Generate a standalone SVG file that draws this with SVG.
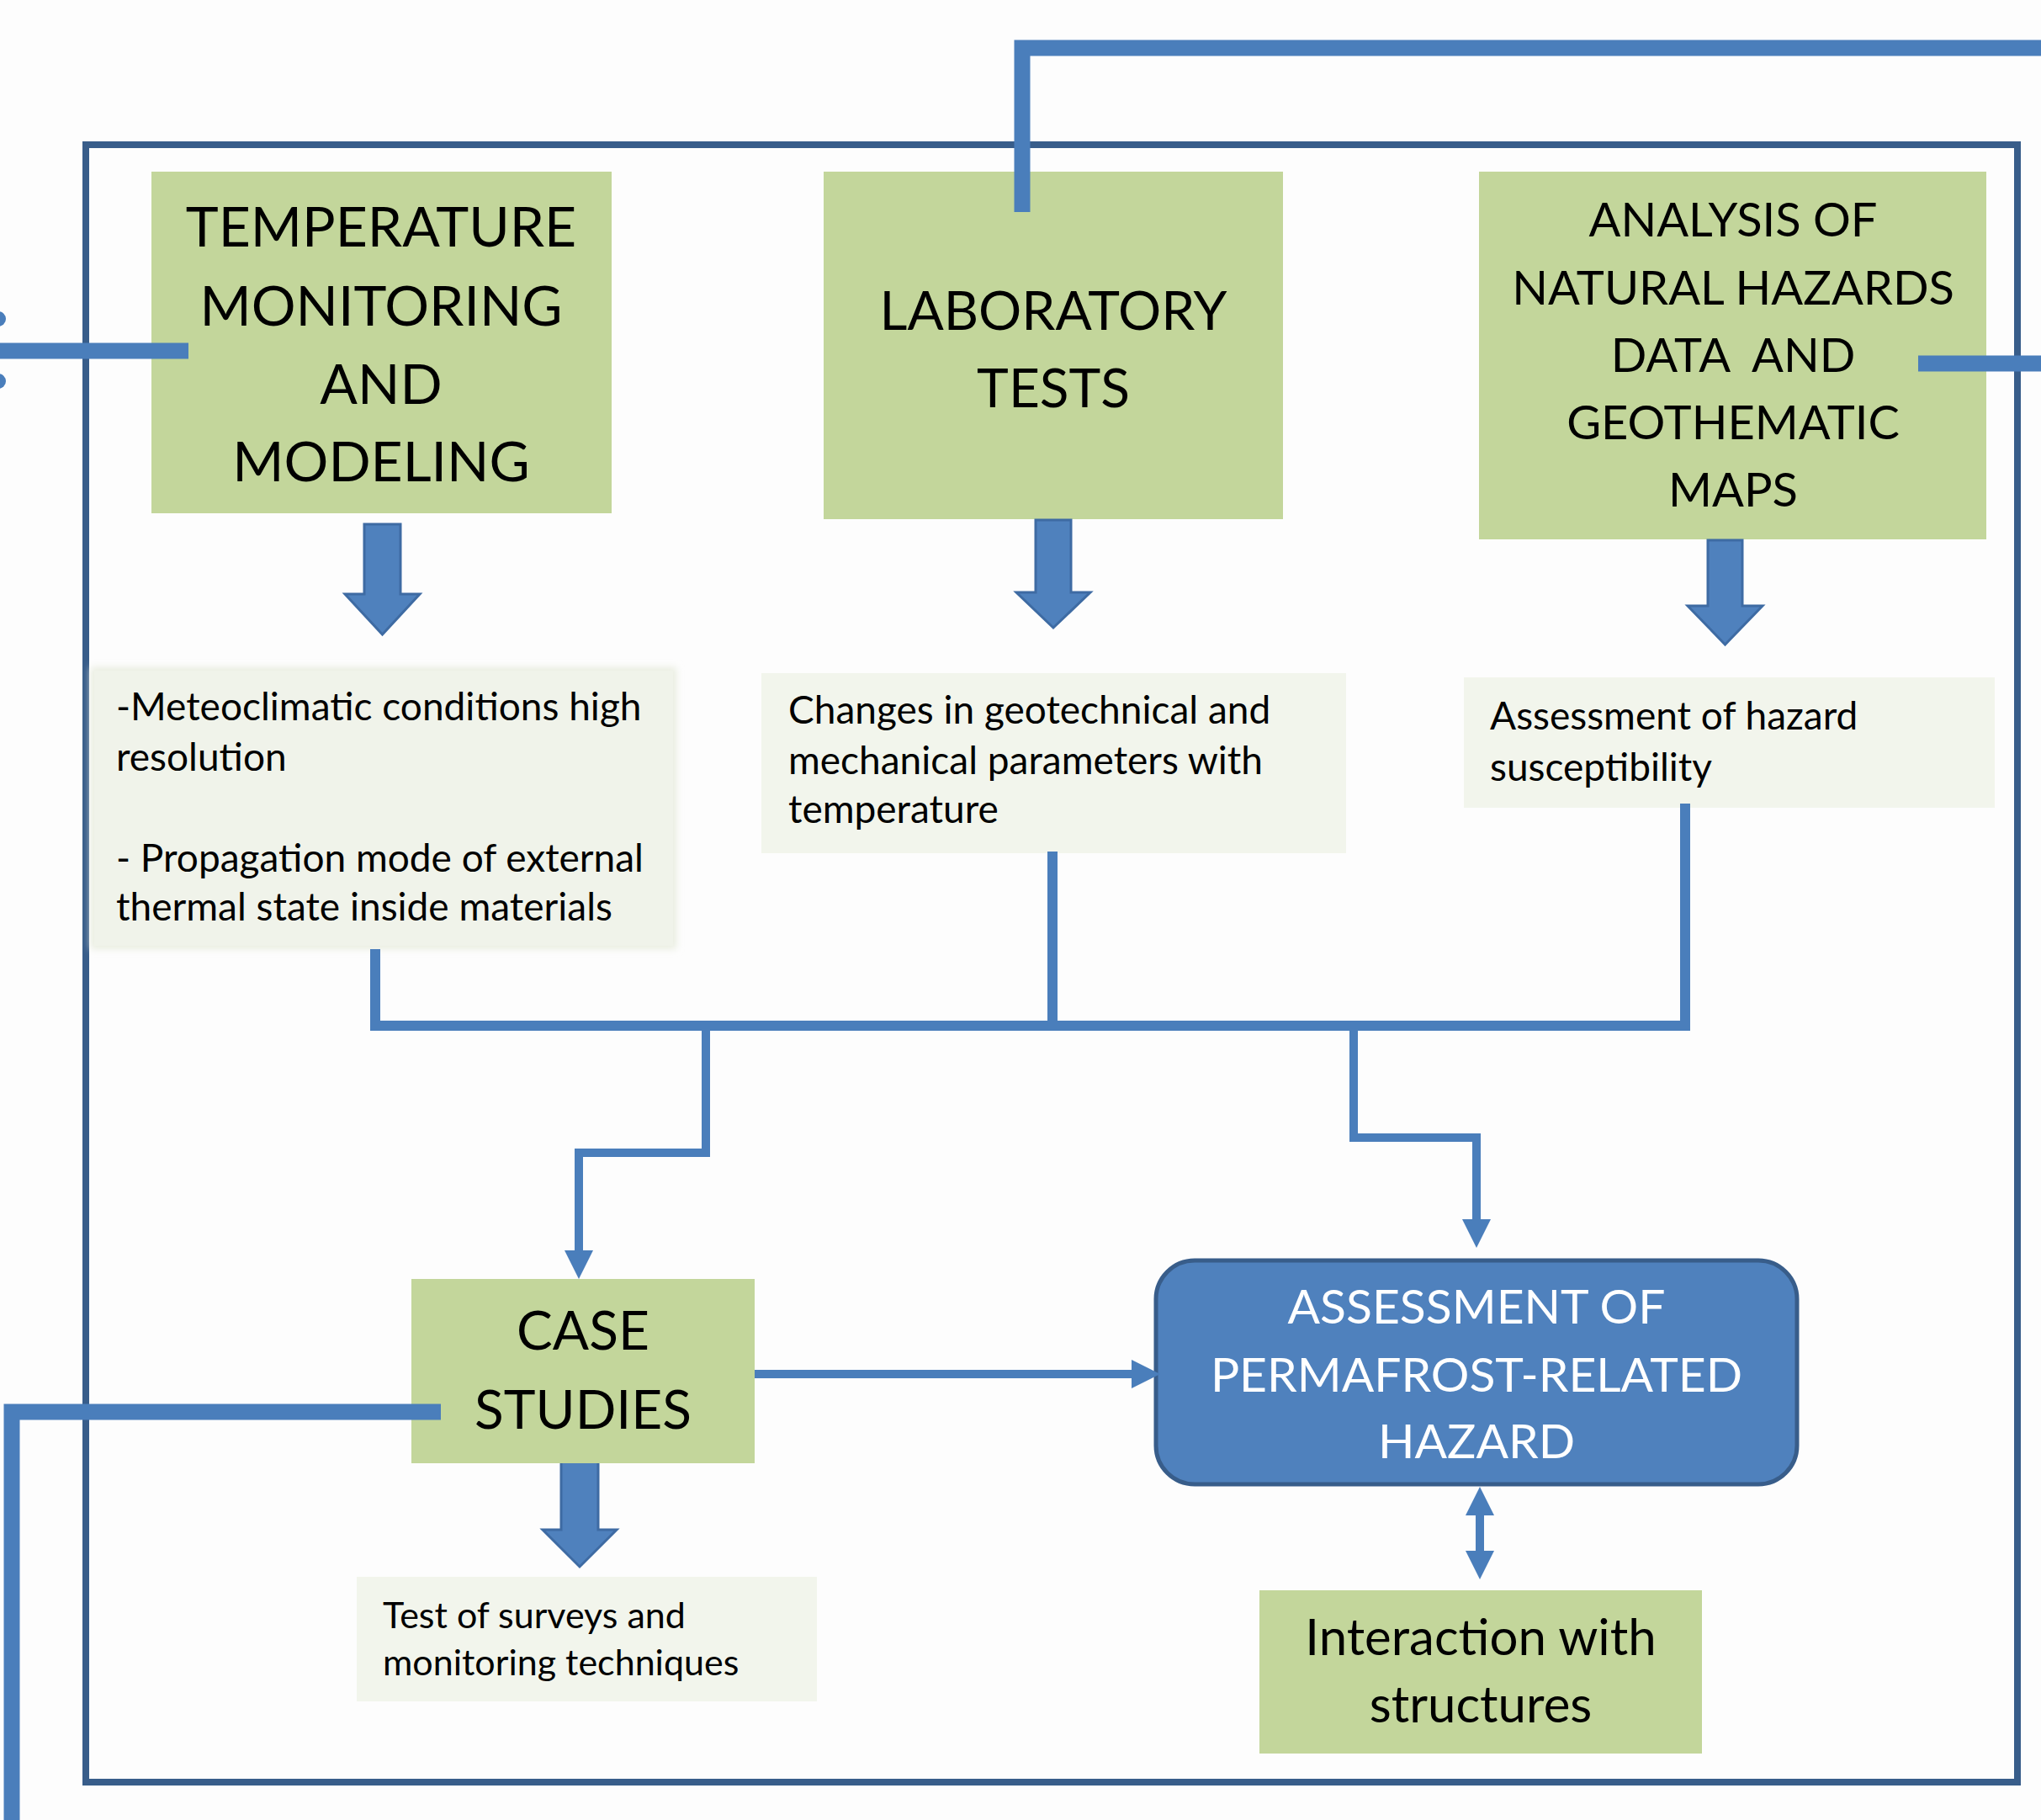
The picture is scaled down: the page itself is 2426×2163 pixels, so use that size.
<svg xmlns="http://www.w3.org/2000/svg" width="2426" height="2163" viewBox="0 0 2426 2163">
<defs>
<style>
.green{fill:#C3D69B}
.light{fill:#F2F5EC}
.t{font-family:Lato,"Open Sans","Liberation Sans",sans-serif;fill:#000}
.c{text-anchor:middle}
.big{font-size:66px}
.med{font-size:56px}
.small{font-size:46px}
.w{fill:#fff}
.conn{fill:none;stroke:#4A7EBB;stroke-width:10}
.bus{fill:none;stroke:#4A7EBB;stroke-width:12}
.ext{fill:none;stroke:#4A7EBB;stroke-width:19}
.blk{fill:#4F81BD;stroke:#3E6BA3;stroke-width:3}
</style>
<marker id="ah" viewBox="0 0 34 34" markerWidth="34" markerHeight="34" refX="1" refY="17" markerUnits="userSpaceOnUse" orient="auto-start-reverse">
<path d="M0,0 L34,17 L0,34 z" fill="#4A7EBB"/>
</marker>
<filter id="soft" x="-5%" y="-5%" width="110%" height="110%">
<feGaussianBlur stdDeviation="4"/>
</filter>
</defs>
<rect width="2426" height="2163" fill="#FDFDFD"/>
<rect id="frame" x="102" y="172" width="2296" height="1946" fill="none" stroke="#385D8A" stroke-width="8"/>

<g id="temperature">
<rect class="green" x="180" y="204" width="547" height="406"/>
<text class="t c big"><tspan x="453" y="293">TEMPERATURE</tspan><tspan x="453" y="387">MONITORING</tspan><tspan x="453" y="480">AND</tspan><tspan x="453" y="572">MODELING</tspan></text>
</g>
<g id="laboratory">
<rect class="green" x="979" y="204" width="546" height="413"/>
<text class="t c" font-size="64"><tspan x="1252" y="392">LABORATORY</tspan><tspan x="1252" y="484">TESTS</tspan></text>
</g>
<g id="analysis">
<rect class="green" x="1758" y="204" width="603" height="437"/>
<text class="t c med" xml:space="preserve"><tspan x="2060" y="281">ANALYSIS OF</tspan><tspan x="2060" y="362">NATURAL HAZARDS</tspan><tspan x="2060" y="442">DATA  AND</tspan><tspan x="2060" y="522">GEOTHEMATIC</tspan><tspan x="2060" y="602">MAPS</tspan></text>
</g>

<g id="arrows-block">
<polygon class="blk" points="433,623 476,623 476,706 499,706 454.5,754 410,706 433,706"/>
<polygon class="blk" points="1231,618 1273,618 1273,704 1296,704 1252,746 1208,704 1231,704"/>
<polygon class="blk" points="2030,642 2071,642 2071,720 2095,720 2050.5,766 2006,720 2030,720"/>
<polygon class="blk" points="667,1732 711,1732 711,1818 733,1818 689,1862 645,1818 667,1818"/>
</g>

<g id="meteo">
<rect x="108" y="793" width="696" height="335" fill="#E9EDE0" filter="url(#soft)"/>
<rect x="112" y="797" width="688" height="327" fill="#F0F3EA"/>
<text class="t small"><tspan x="138" y="856">-Meteoclimatic conditions high</tspan><tspan x="138" y="916">resolution</tspan><tspan x="138" y="1036">- Propagation mode of external</tspan><tspan x="138" y="1094">thermal state inside materials</tspan></text>
</g>
<g id="changes">
<rect class="light" x="905" y="800" width="695" height="214"/>
<text class="t small"><tspan x="937" y="860">Changes in geotechnical and</tspan><tspan x="937" y="920">mechanical parameters with</tspan><tspan x="937" y="978">temperature</tspan></text>
</g>
<g id="susceptibility">
<rect class="light" x="1740" y="805" width="631" height="155"/>
<text class="t small"><tspan x="1771" y="867">Assessment of hazard</tspan><tspan x="1771" y="928">susceptibility</tspan></text>
</g>

<g id="case-studies">
<rect class="green" x="489" y="1520" width="408" height="219"/>
<text class="t c" font-size="64"><tspan x="693" y="1604">CASE</tspan><tspan x="693" y="1698">STUDIES</tspan></text>
</g>
<g id="test-surveys">
<rect class="light" x="424" y="1874" width="547" height="148"/>
<text class="t" font-size="43"><tspan x="455" y="1935">Test of surveys and</tspan><tspan x="455" y="1991">monitoring techniques</tspan></text>
</g>
<g id="permafrost-hazard">
<rect x="1374" y="1498" width="762" height="266" rx="46" ry="46" fill="#4F81BD" stroke="#385D8A" stroke-width="5"/>
<text class="t c w" font-size="57"><tspan x="1755" y="1573">ASSESSMENT OF</tspan><tspan x="1755" y="1654">PERMAFROST-RELATED</tspan><tspan x="1755" y="1733">HAZARD</tspan></text>
</g>
<g id="interaction">
<rect class="green" x="1497" y="1890" width="526" height="194"/>
<text class="t c" font-size="60"><tspan x="1760" y="1967">Interaction with</tspan><tspan x="1760" y="2047">structures</tspan></text>
</g>

<g id="connectors">
<path class="bus" d="M446,1128 V1219 H2003 V955"/>
<path class="bus" d="M1251,1012 V1219"/>
<path class="conn" d="M839,1219 V1370 H688 V1487" marker-end="url(#ah)"/>
<path class="conn" d="M1609,1219 V1352 H1755 V1450" marker-end="url(#ah)"/>
<path class="conn" d="M897,1633 H1346" marker-end="url(#ah)"/>
<path class="conn" d="M1759,1800 V1844" marker-start="url(#ah)" marker-end="url(#ah)"/>
<path class="ext" d="M1215,252 V57 H2426"/>
<path class="ext" d="M0,417 H224"/>
<path class="ext" d="M2280,432 H2426"/>
<path class="ext" d="M14,2163 V1678 H524"/>
<circle cx="-2" cy="379" r="9" fill="#4A7EBB"/>
<circle cx="-2" cy="453" r="9" fill="#4A7EBB"/>
</g>
</svg>
